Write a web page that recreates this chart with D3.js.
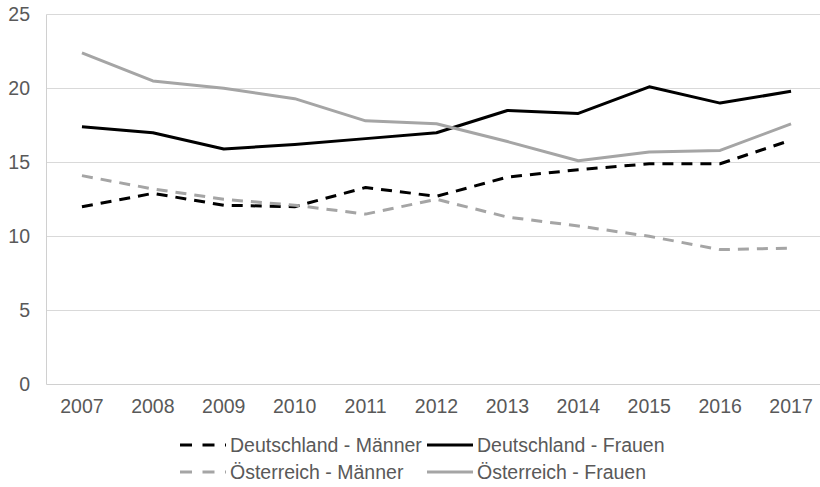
<!DOCTYPE html>
<html>
<head>
<meta charset="utf-8">
<script src="https://cdn.jsdelivr.net/npm/d3@7"></script>
<style>
  body { margin: 0; background: #fff; }
  #chart { width: 820px; height: 487px; overflow: hidden; }
  text { font-family: "Liberation Sans", Arial, sans-serif; fill: #595959; }
</style>
</head>
<body>
<div id="chart"></div>
<script>
const years = ["2007", "2008", "2009", "2010", "2011", "2012", "2013", "2014", "2015", "2016", "2017"]
const yTicks = [0, 5, 10, 15, 20, 25]

const deMaenner = [12.0, 12.9, 12.1, 12.0, 13.3, 12.7, 14.0, 14.5, 14.9, 14.9, 16.5]
const deFrauen = [17.4, 17.0, 15.9, 16.2, 16.6, 17.0, 18.5, 18.3, 20.1, 19.0, 19.8]
const atMaenner = [14.1, 13.2, 12.5, 12.1, 11.5, 12.5, 11.3, 10.7, 10.0, 9.1, 9.2]
const atFrauen = [22.4, 20.5, 20.0, 19.3, 17.8, 17.6, 16.4, 15.1, 15.7, 15.8, 17.6]

const seriesNames = ["Deutschland - Männer", "Deutschland - Frauen", "Österreich - Männer", "Österreich - Frauen"]

function renderChart(opts) {
    const series = [
        {name: seriesNames[0], values: deMaenner, color: "#000000", dash: true},
        {name: seriesNames[1], values: deFrauen, color: "#000000", dash: false},
        {name: seriesNames[2], values: atMaenner, color: "#a5a5a5", dash: true},
        {name: seriesNames[3], values: atFrauen, color: "#a5a5a5", dash: false}
    ]

    const svg = d3.select(opts.target).append("svg")
        .attr("width", opts.width)
        .attr("height", opts.height)

    const x = d3.scaleBand().domain(years).range([46.5, 826.5]).padding(0)
    const y = d3.scaleLinear().domain([0, 25]).range([384.3, 14.3])
    const cx = d => x(d) + x.bandwidth() / 2

    // gridlines
    svg.append("g")
        .selectAll("line")
        .data(yTicks.filter(t => t > 0))
        .enter()
        .append("line")
        .attr("x1", x.range()[0]).attr("x2", x.range()[1])
        .attr("y1", d => Math.round(y(d)) + 0.5).attr("y2", d => Math.round(y(d)) + 0.5)
        .attr("stroke", "#d9d9d9")
        .attr("stroke-width", 1)

    // axis lines
    svg.append("line")
        .attr("x1", x.range()[0]).attr("x2", x.range()[1])
        .attr("y1", Math.round(y(0)) + 0.5).attr("y2", Math.round(y(0)) + 0.5)
        .attr("stroke", "#d0d0d0")
    svg.append("line")
        .attr("x1", x.range()[0]).attr("x2", x.range()[0])
        .attr("y1", Math.round(y(25)) + 0.5).attr("y2", Math.round(y(0)) + 0.5)
        .attr("stroke", "#d0d0d0")

    svg.append("g")
        .selectAll("text")
        .data(yTicks)
        .enter()
        .append("text")
        .attr("x", 30)
        .attr("y", d => y(d))
        .attr("dy", "0.36em")
        .attr("text-anchor", "end")
        .style("font-size", opts.fontSize)
        .text(d => d)

    svg.append("g")
        .selectAll("text")
        .data(years)
        .enter()
        .append("text")
        .attr("x", d => cx(d))
        .attr("y", 413)
        .attr("text-anchor", "middle")
        .style("font-size", opts.fontSize)
        .text(d => d)

    const line = d3.line()
        .x((d, i) => cx(years[i]))
        .y(d => y(d))

    svg.append("g")
        .selectAll("path")
        .data(series)
        .enter()
        .append("path")
        .attr("d", d => line(d.values))
        .attr("fill", "none")
        .attr("stroke", d => d.color)
        .attr("stroke-width", 3)
        .attr("stroke-linejoin", "round")
        .attr("stroke-dasharray", d => d.dash ? "11,8" : null)

    // legend, 2x2
    const legendPos = [[180, 445], [427, 445], [180, 472], [427, 472]]
    const legend = svg.append("g")
        .selectAll("g")
        .data(series)
        .enter()
        .append("g")
        .attr("transform", (d, i) => `translate(${legendPos[i][0]},${legendPos[i][1]})`)

    legend.append("line")
        .attr("x1", 0).attr("x2", 46)
        .attr("y1", 0).attr("y2", 0)
        .attr("stroke", d => d.color)
        .attr("stroke-width", 3)
        .attr("stroke-dasharray", d => d.dash ? "12,10.5" : null)

    legend.append("text")
        .attr("x", 50)
        .attr("y", 0)
        .attr("dy", "0.36em")
        .style("font-size", opts.fontSize)
        .text(d => d.name)
}

renderChart({target: "#chart", width: 820, height: 487, fontSize: "19.5px"})
</script>
</body>
</html>
